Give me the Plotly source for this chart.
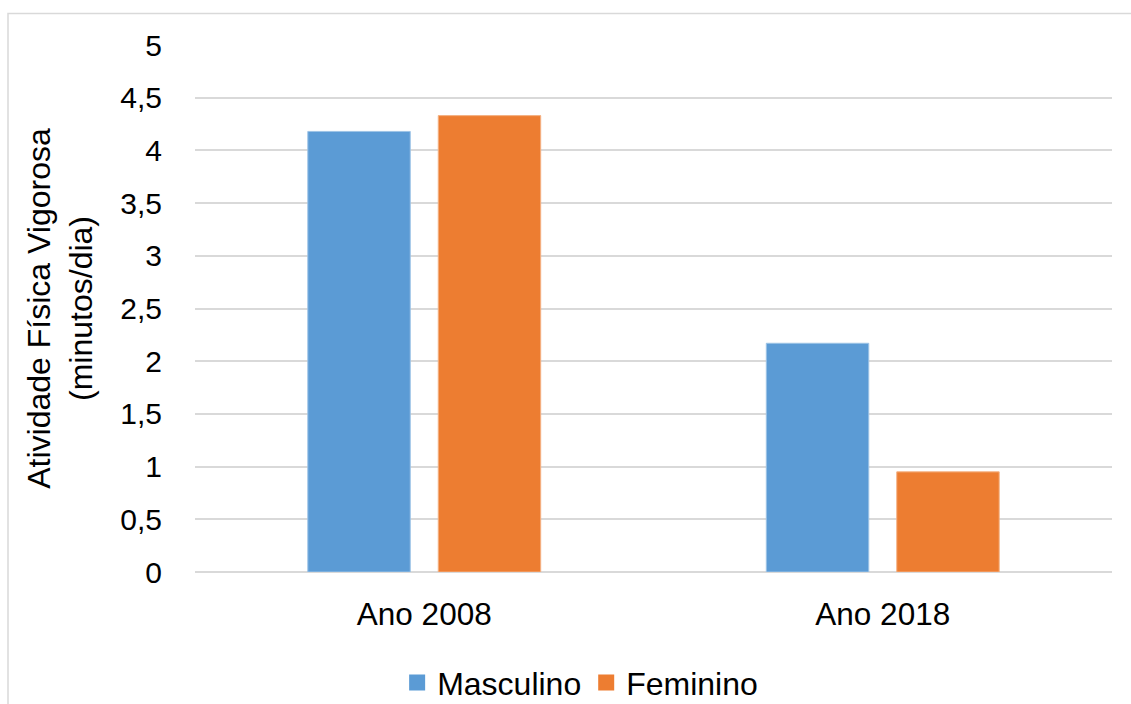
import plotly.graph_objects as go

categories = ["Ano 2008", "Ano 2018"]
masculino = [4.18, 2.17]
feminino = [4.33, 0.95]
series_names = ["Masculino", "Feminino"]
series_colors = ["#5B9BD5", "#ED7D31"]
y_ticks = [0, 0.5, 1, 1.5, 2, 2.5, 3, 3.5, 4, 4.5, 5]
y_tick_labels = ["0", "0,5", "1", "1,5", "2", "2,5", "3", "3,5", "4", "4,5", "5"]

FONT = "Liberation Sans, Arial, sans-serif"

fig = go.Figure()
fig.add_trace(go.Bar(x=categories, y=masculino, name=series_names[0], showlegend=False,
                     marker=dict(color=series_colors[0], line=dict(color="#9DC3E6", width=1))))
fig.add_trace(go.Bar(x=categories, y=feminino, name=series_names[1], showlegend=False,
                     marker=dict(color=series_colors[1], line=dict(color="#F4B183", width=1))))
# legend entries with larger square swatches
for n, c in zip(series_names, series_colors):
    fig.add_trace(go.Scatter(x=[None], y=[None], mode="markers", name=n,
                             marker=dict(symbol="square", size=17, color=c)))

fig.update_layout(
    width=1131, height=704,
    margin=dict(l=195, r=19, t=45, b=132, autoexpand=False),
    paper_bgcolor="white", plot_bgcolor="white",
    font=dict(family=FONT, size=30, color="#000000"),
    barmode="group", bargap=0.431, bargroupgap=0.2146,
    showlegend=True,
    legend=dict(orientation="h", x=0.42, xanchor="center", y=-0.21, yanchor="middle",
                font=dict(size=32), traceorder="normal", itemwidth=30),
    shapes=[dict(type="rect", xref="paper", yref="paper",
                 x0=(8 - 195) / 917, x1=1.2, y0=-0.5, y1=(572 - 13.5) / 527,
                 line=dict(color="#D9D9D9", width=1.5), layer="below")],
)
fig.update_xaxes(showline=False, ticks="outside", ticklen=14, tickcolor="rgba(0,0,0,0)",
                 tickfont=dict(size=31.5), automargin=False)
fig.update_yaxes(range=[0, 5], tickvals=y_ticks, ticktext=y_tick_labels,
                 showgrid=True, gridcolor="#D9D9D9", gridwidth=1.5,
                 zeroline=True, zerolinecolor="#D9D9D9", zerolinewidth=1.5,
                 showline=False, ticks="outside", ticklen=26, tickcolor="rgba(0,0,0,0)",
                 tickfont=dict(size=30), automargin=False,
                 title=dict(text="Atividade Física Vigorosa<br>(minutos/dia)",
                            font=dict(size=32), standoff=18))

fig.write_html("out.html")
